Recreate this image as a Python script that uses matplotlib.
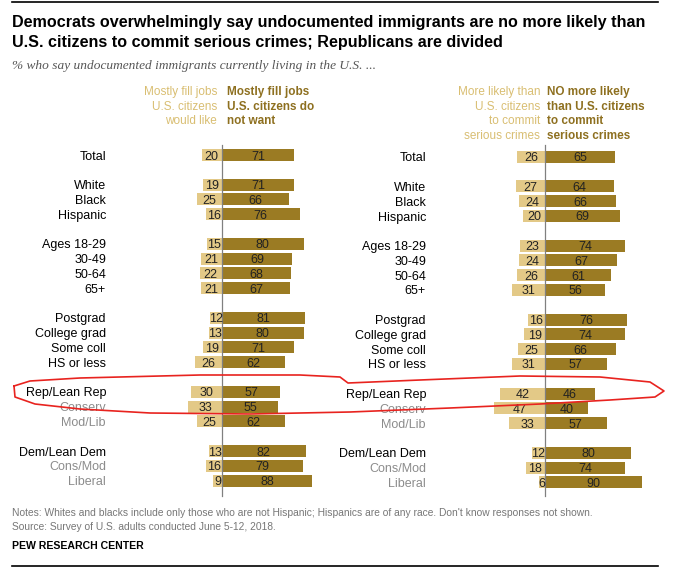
import numpy as np
import matplotlib

matplotlib.use("Agg")
import matplotlib.pyplot as plt

# ---------------------------------------------------------------- data
groups = ["Total",
          "White", "Black", "Hispanic",
          "Ages 18-29", "30-49", "50-64", "65+",
          "Postgrad", "College grad", "Some coll", "HS or less",
          "Rep/Lean Rep", "Conserv", "Mod/Lib",
          "Dem/Lean Dem", "Cons/Mod", "Liberal"]
sub_rows = {"Conserv", "Mod/Lib", "Cons/Mod", "Liberal"}
# position index (gaps between blocks)
rows = [0, 2, 3, 4, 6, 7, 8, 9, 11, 12, 13, 14, 16, 17, 18, 20, 21, 22]

jobs_would_like = [20, 19, 25, 16, 15, 21, 22, 21, 12, 13, 19, 26, 30, 33, 25, 13, 16, 9]
jobs_not_want = [71, 71, 66, 76, 80, 69, 68, 67, 81, 80, 71, 62, 57, 55, 62, 82, 79, 88]
crime_more = [26, 27, 24, 20, 23, 24, 26, 31, 16, 19, 25, 31, 42, 47, 33, 12, 18, 6]
crime_no_more = [65, 64, 66, 69, 74, 67, 61, 56, 76, 74, 66, 57, 46, 40, 57, 80, 74, 90]

LIGHT = "#E3C987"
DARK = "#9B7B23"
GREY = "#8C8C8C"

plt.rcParams["font.family"] = ["Liberation Sans", "DejaVu Sans"]

W, H = 688, 573
fig = plt.figure(figsize=(W / 100, H / 100), dpi=100)

# --------------------------------------------------------------- panels
Y0, Y1 = 140, 500       # panel pixel extent (top, bottom)
ROW = 14.8               # pixel per row unit
TOP_ROW = 155            # pixel y of the first row


def panel(left_px, zero_px, scale, neg, pos, label_px, dy=0.0):
    ax = fig.add_axes([left_px / W, 1 - Y1 / H, 344 / W, (Y1 - Y0) / H])
    ax.set_xlim(-(zero_px - left_px) / scale, (left_px + 344 - zero_px) / scale)
    top = TOP_ROW + dy
    ax.set_ylim((Y1 - top) / ROW, (Y0 - top) / ROW)
    ax.axis("off")
    ax.barh(rows, [-v for v in neg], height=0.82, color=LIGHT)
    ax.barh(rows, pos, height=0.82, color=DARK)
    ax.axvline(0, ymin=0.01, ymax=0.985, color="#808080", lw=0.9)
    for r, n, p, g in zip(rows, neg, pos, groups):
        ax.text(-n / 2, r, str(n), ha="center", va="center_baseline",
                fontsize=9, color="#222222")
        ax.text(p / 2, r, str(p), ha="center", va="center_baseline",
                fontsize=9, color="#222222")
        ax.text((label_px - zero_px) / scale, r, g, ha="right", va="center_baseline",
                fontsize=9, color=GREY if g in sub_rows else "black")
    return ax


axl = panel(0, 222, 1.02, jobs_would_like, jobs_not_want, 106)
axr = panel(344, 545, 1.08, crime_more, crime_no_more, 426, dy=1.8)

# ------------------------------------------------------------- headers
hdr = dict(fontsize=8.5, va="top", linespacing=1.3)
fig.text(217 / W, 1 - 86 / H, "Mostly fill jobs\nU.S. citizens\nwould like",
         ha="right", color="#D9BE72", **hdr)
fig.text(227 / W, 1 - 86 / H, "Mostly fill jobs\nU.S. citizens do\nnot want",
         ha="left", color="#8E7020", fontweight="bold", **hdr)
fig.text(540 / W, 1 - 86 / H, "More likely than\nU.S. citizens\nto commit\nserious crimes",
         ha="right", color="#D9BE72", **hdr)
fig.text(547 / W, 1 - 86 / H, "NO more likely\nthan U.S. citizens\nto commit\nserious crimes",
         ha="left", color="#8E7020", fontweight="bold", **hdr)

# --------------------------------------------------------------- titles
ttl = dict(ha="left", va="center", fontsize=11.6, fontweight="bold", color="black")
fig.text(12 / W, 1 - 22 / H,
         "Democrats overwhelmingly say undocumented immigrants are no more likely than", **ttl)
fig.text(12 / W, 1 - 43 / H,
         "U.S. citizens to commit serious crimes; Republicans are divided", **ttl)
fig.text(12 / W, 1 - 66 / H,
         "% who say undocumented immigrants currently living in the U.S. ...",
         ha="left", va="center", fontsize=9.6, style="italic", color="#555555",
         family=["Liberation Serif", "DejaVu Serif"])

fig.text(12 / W, 1 - 513 / H,
         "Notes: Whites and blacks include only those who are not Hispanic; "
         "Hispanics are of any race. Don't know responses not shown.",
         ha="left", va="center", fontsize=7.4, color="#777777")
fig.text(12 / W, 1 - 527 / H,
         "Source: Survey of U.S. adults conducted June 5-12, 2018.",
         ha="left", va="center", fontsize=7.4, color="#777777")
fig.text(12 / W, 1 - 546 / H, "PEW RESEARCH CENTER", ha="left", va="center",
         fontsize=7.6, fontweight="bold", color="black")

# rules
for y in (2, 566):
    fig.add_artist(plt.Line2D([12 / W, 658 / W], [1 - y / H, 1 - y / H],
                              color="black", lw=1.2))

# hand-drawn red loop around the Republican rows
loop_x = [14, 30, 80, 200, 300, 340, 348, 420, 520, 600, 650, 664, 655, 610,
          540, 450, 350, 250, 150, 80, 35, 15, 14]
loop_y = [386, 381, 378, 375, 375, 377, 383, 380, 376, 377, 382, 391, 397, 400,
          404, 408, 412, 414, 413, 409, 404, 397, 386]
fig.add_artist(plt.Line2D([x / W for x in loop_x], [1 - y / H for y in loop_y],
                          color="#E8231F", lw=1.2, solid_joinstyle="round"))

fig.savefig("out.png", dpi=100)
